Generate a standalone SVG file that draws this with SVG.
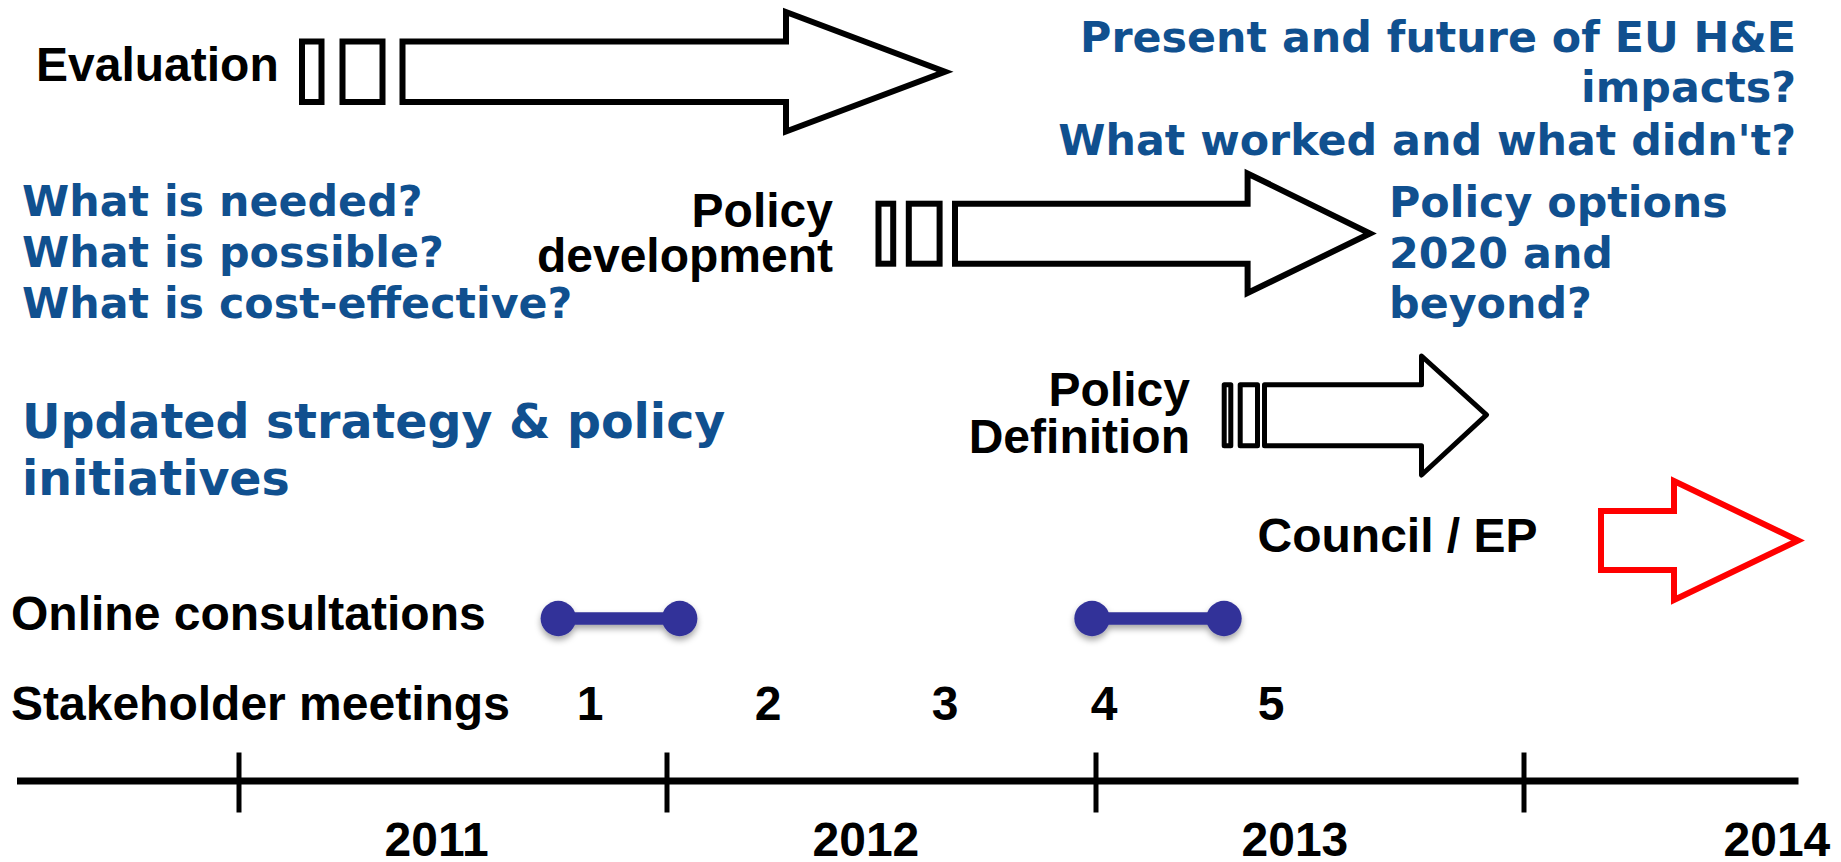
<svg xmlns="http://www.w3.org/2000/svg" width="1841" height="862" viewBox="0 0 1841 862">
<style>
.lbl{font-family:"Liberation Sans",Arial,sans-serif;font-weight:bold;font-size:48px;fill:#000}
.q{font-family:"DejaVu Sans",Verdana,sans-serif;font-weight:bold;font-size:42.8px;fill:#10508F}
.qb{font-family:"DejaVu Sans",Verdana,sans-serif;font-weight:bold;font-size:47.5px;fill:#10508F}
.arr{fill:#fff;stroke:#000;stroke-width:6;stroke-linejoin:miter;stroke-miterlimit:10}
.arr5{fill:#fff;stroke:#000;stroke-width:5;stroke-linejoin:round}
.red{fill:#fff;stroke:#f00;stroke-width:6;stroke-linejoin:miter;stroke-miterlimit:10}
.dot{fill:#333399}
.bar{stroke:#333399;stroke-width:12.5}
.axis{stroke:#000;stroke-width:7}
.tick{stroke:#000;stroke-width:5}
</style>
<defs>
<filter id="sh" x="-20%" y="-50%" width="140%" height="220%">
<feDropShadow dx="0" dy="4" stdDeviation="3" flood-color="#000" flood-opacity="0.35"/>
</filter>
</defs>
<rect width="1841" height="862" fill="#fff"/>

<g id="evaluation">
<text class="lbl" x="36" y="81">Evaluation</text>
<rect class="arr" x="302" y="41.5" width="19.5" height="60.5"/>
<rect class="arr" x="342.5" y="41.5" width="40" height="60.5"/>
<polygon class="arr" points="402.5,41.5 786,41.5 786,12 945,71.7 786,131.5 786,102 402.5,102"/>
</g>

<g id="evaluation-questions">
<text class="q" x="1796" y="52" text-anchor="end">Present and future of EU H&amp;E</text>
<text class="q" x="1796" y="102" text-anchor="end">impacts?</text>
<text class="q" x="1796" y="155" text-anchor="end">What worked and what didn't?</text>
</g>

<g id="needs-questions">
<text class="q" x="22" y="216">What is needed?</text>
<text class="q" x="22" y="267">What is possible?</text>
<text class="q" x="22" y="318">What is cost-effective?</text>
</g>

<g id="policy-development">
<text class="lbl" x="833" y="227" text-anchor="end">Policy</text>
<text class="lbl" x="833" y="272" text-anchor="end">development</text>
<rect class="arr" x="878.5" y="203.7" width="14.7" height="60"/>
<rect class="arr" x="908.8" y="203.7" width="30.8" height="60"/>
<polygon class="arr" points="955,203.7 1247.6,203.7 1247.6,173.5 1370,233.5 1247.6,293 1247.6,263.7 955,263.7"/>
</g>

<g id="policy-options">
<text class="q" x="1389" y="217">Policy options</text>
<text class="q" x="1389" y="268">2020 and</text>
<text class="q" x="1389" y="318">beyond?</text>
</g>

<g id="updated-strategy">
<text class="qb" x="22" y="438">Updated strategy &amp; policy</text>
<text class="qb" x="22" y="495">initiatives</text>
</g>

<g id="policy-definition">
<text class="lbl" x="1190" y="406" text-anchor="end">Policy</text>
<text class="lbl" x="1190" y="453" text-anchor="end">Definition</text>
<rect class="arr5" x="1224.2" y="384.8" width="6.6" height="61"/>
<rect class="arr5" x="1240.2" y="384.8" width="17.3" height="61"/>
<polygon class="arr5" points="1264.5,384.8 1421.5,384.8 1421.5,356 1486.5,414.8 1421.5,475 1421.5,445.8 1264.5,445.8"/>
</g>

<g id="council-ep">
<text class="lbl" x="1257.5" y="552">Council / EP</text>
<polygon class="red" points="1601,511 1674,511 1674,481 1798,540.5 1674,600 1674,570 1601,570"/>
</g>

<g id="online-consultations">
<text class="lbl" x="11" y="630">Online consultations</text>
</g>

<g id="stakeholder-meetings">
<text class="lbl" x="11" y="720">Stakeholder meetings</text>
<text class="lbl" x="590" y="720" text-anchor="middle">1</text>
<text class="lbl" x="768" y="720" text-anchor="middle">2</text>
<text class="lbl" x="945" y="720" text-anchor="middle">3</text>
<text class="lbl" x="1104" y="720" text-anchor="middle">4</text>
<text class="lbl" x="1271" y="720" text-anchor="middle">5</text>
</g>

<g id="connectors">
<g filter="url(#sh)">
<line class="bar" x1="558.3" y1="618.5" x2="679.7" y2="618.5"/>
<circle class="dot" cx="558.3" cy="618.5" r="17.7"/>
<circle class="dot" cx="679.7" cy="618.5" r="17.7"/>
</g>
<g filter="url(#sh)">
<line class="bar" x1="1092" y1="618.5" x2="1224" y2="618.5"/>
<circle class="dot" cx="1092" cy="618.5" r="17.7"/>
<circle class="dot" cx="1224" cy="618.5" r="17.7"/>
</g>
</g>

<g id="timeline">
<line class="axis" x1="17" y1="781" x2="1798.5" y2="781"/>
<line class="tick" x1="239" y1="752.5" x2="239" y2="812.5"/>
<line class="tick" x1="667" y1="752.5" x2="667" y2="812.5"/>
<line class="tick" x1="1096" y1="752.5" x2="1096" y2="812.5"/>
<line class="tick" x1="1524" y1="752.5" x2="1524" y2="812.5"/>
<text class="lbl" x="384.5" y="856">2011</text>
<text class="lbl" x="812.5" y="856">2012</text>
<text class="lbl" x="1241.5" y="856">2013</text>
<text class="lbl" x="1723.5" y="856">2014</text>
</g>
</svg>
